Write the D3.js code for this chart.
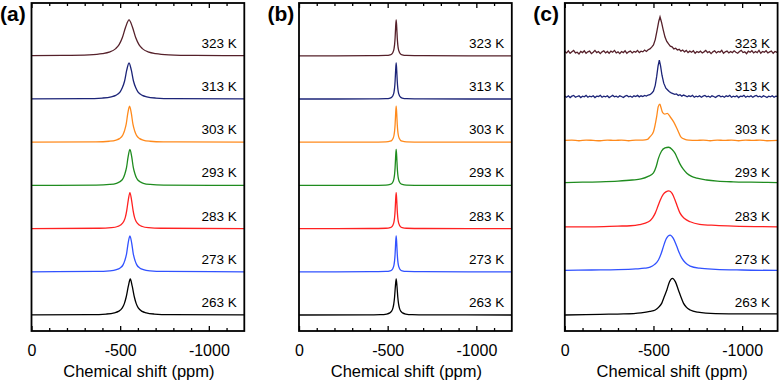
<!DOCTYPE html>
<html>
<head>
<meta charset="utf-8">
<script src="https://cdn.jsdelivr.net/npm/d3@7"></script>
<style>
  body { margin: 0; background: #fff; }
  svg { display: block; font-family: "Liberation Sans", Arial, sans-serif; }
</style>
</head>
<body>
<div id="chart"></div>
<script>
// temperatures, top row first
var temps = ["323 K", "313 K", "303 K", "293 K", "283 K", "273 K", "263 K"];
var lineColors = ["#55202a", "#1c2478", "#ff8a1c", "#1f8c1f", "#ff2121", "#3152ff", "#000000"];
var panelLabels = ["(a)", "(b)", "(c)"];
var majorTicks = [0, -500, -1000];
var tickLabels = ["0", "-500", "-1000"];
var minorTicks = [-100, -200, -300, -400, -600, -700, -800, -900, -1100];

// panel (a) spectra [ppm, intensity]
var a323 = [[0, .005], [-175, .01], [-325, .027], [-400, .06], [-438, .1], [-475, .2], [-494, .31], [-512, .5], [-531, .8], [-550, 1], [-569, .8], [-588, .5], [-606, .31], [-625, .2], [-662, .1], [-700, .06], [-775, .027], [-925, .01], [-1200, .004]];
var a313 = [[0, .002], [-300, .01], [-400, .027], [-450, .059], [-475, .1], [-500, .2], [-512, .31], [-525, .5], [-537, .8], [-550, 1], [-563, .8], [-575, .5], [-588, .31], [-600, .2], [-625, .1], [-650, .059], [-700, .027], [-800, .01], [-1200, .002]];
var a303 = [[0, .001], [-363, .01], [-439, .027], [-477, .059], [-496, .1], [-515, .2], [-524, .31], [-534, .5], [-543, .8], [-553, 1], [-563, .8], [-572, .5], [-582, .31], [-591, .2], [-610, .1], [-629, .059], [-667, .027], [-743, .01], [-1200, .001]];
var a293 = [[0, .001], [-365, .01], [-441, .027], [-479, .059], [-498, .1], [-517, .2], [-526, .31], [-536, .5], [-545, .8], [-555, 1], [-565, .8], [-574, .5], [-584, .31], [-593, .2], [-612, .1], [-631, .059], [-669, .027], [-745, .01], [-1200, .001]];
var a283 = [[0, .001], [-380, .01], [-450, .027], [-485, .059], [-502, .1], [-520, .2], [-529, .31], [-537, .5], [-546, .8], [-555, 1], [-564, .8], [-573, .5], [-581, .31], [-590, .2], [-608, .1], [-625, .059], [-660, .027], [-730, .01], [-1200, .001]];
var a273 = [[0, .001], [-365, .01], [-441, .027], [-479, .059], [-498, .1], [-517, .2], [-526, .31], [-536, .5], [-545, .8], [-555, 1], [-565, .8], [-574, .5], [-584, .31], [-593, .2], [-612, .1], [-631, .059], [-669, .027], [-745, .01], [-1200, .001]];
var a263 = [[0, .002], [-332, .01], [-422, .027], [-467, .059], [-490, .1], [-512, .2], [-523, .31], [-534, .5], [-546, .8], [-557, 1], [-568, .8], [-580, .5], [-591, .31], [-602, .2], [-624, .1], [-647, .059], [-692, .027], [-782, .01], [-1200, .002]];

// panel (b) spectra
var bNarrow = [[0, 0], [-400, .003], [-490, .01], [-514, .027], [-524, .055], [-530, .1], [-536, .2], [-539, .31], [-542, .5], [-545, .8], [-548, 1], [-551, .8], [-554, .5], [-557, .31], [-560, .2], [-566, .1], [-572, .055], [-582, .027], [-606, .01], [-700, .003], [-1200, 0]];
var b263 = [[0, 0], [-380, .004], [-458, .01], [-494, .027], [-512, .059], [-521, .1], [-530, .2], [-534.5, .31], [-539, .5], [-543.5, .8], [-548, 1], [-552.5, .8], [-557, .5], [-561.5, .31], [-566, .2], [-575, .1], [-584, .059], [-602, .027], [-638, .01], [-720, .004], [-1200, 0]];

// panel (c) spectra (323 K and 313 K are noisy)
var c323 = [[0, .12], [-10, .08], [-20, .14], [-30, .07], [-40, .11], [-50, .15], [-60, .08], [-70, .10], [-80, .05], [-90, .12], [-100, .09], [-110, .14], [-120, .07], [-130, .11], [-140, .13], [-150, .06], [-160, .10], [-170, .15], [-180, .09], [-190, .12], [-200, .06], [-210, .11], [-220, .14], [-230, .08], [-240, .12], [-250, .07], [-260, .13], [-270, .10], [-280, .15], [-290, .08], [-300, .11], [-310, .06], [-320, .12], [-330, .09], [-340, .14], [-350, .07], [-360, .11], [-370, .13], [-380, .08], [-390, .12], [-400, .10], [-410, .15], [-420, .09], [-430, .13], [-440, .11], [-450, .16], [-460, .12], [-470, .17], [-480, .19], [-490, .24], [-500, .30], [-510, .45], [-520, .70], [-530, .96], [-537, 1.08], [-545, .94], [-555, .72], [-565, .52], [-575, .40], [-585, .33], [-595, .27], [-605, .25], [-615, .19], [-625, .21], [-635, .16], [-645, .18], [-655, .13], [-665, .16], [-675, .11], [-685, .15], [-695, .09], [-705, .13], [-715, .10], [-725, .14], [-735, .07], [-745, .12], [-755, .09], [-765, .13], [-775, .08], [-785, .11], [-795, .15], [-805, .09], [-815, .12], [-825, .06], [-835, .11], [-845, .14], [-855, .08], [-865, .12], [-875, .10], [-885, .15], [-895, .07], [-905, .11], [-915, .13], [-925, .08], [-935, .12], [-945, .09], [-955, .14], [-965, .10], [-975, .07], [-985, .12], [-995, .15], [-1005, .09], [-1015, .11], [-1025, .06], [-1035, .13], [-1045, .10], [-1055, .14], [-1065, .08], [-1075, .12], [-1085, .09], [-1095, .15], [-1105, .07], [-1115, .12], [-1125, .10], [-1135, .14], [-1145, .08], [-1155, .11], [-1165, .13], [-1175, .07], [-1185, .12], [-1195, .10], [-1200, .11]];
var c313 = [[0, .08], [-10, .05], [-20, .09], [-30, .04], [-40, .08], [-50, .10], [-60, .05], [-70, .07], [-80, .09], [-90, .04], [-100, .08], [-110, .06], [-120, .10], [-130, .05], [-140, .08], [-150, .06], [-160, .09], [-170, .04], [-180, .08], [-190, .07], [-200, .10], [-210, .05], [-220, .08], [-230, .06], [-240, .09], [-250, .04], [-260, .07], [-270, .10], [-280, .06], [-290, .08], [-300, .05], [-310, .09], [-320, .07], [-330, .04], [-340, .08], [-350, .10], [-360, .06], [-370, .08], [-380, .05], [-390, .09], [-400, .07], [-410, .10], [-420, .06], [-430, .09], [-440, .07], [-450, .10], [-460, .08], [-470, .11], [-480, .12], [-490, .16], [-500, .22], [-510, .38], [-518, .62], [-526, .92], [-533, 1.08], [-540, .92], [-548, .66], [-558, .44], [-570, .30], [-580, .25], [-590, .20], [-600, .17], [-610, .15], [-620, .13], [-630, .14], [-640, .10], [-650, .12], [-660, .08], [-670, .11], [-680, .09], [-690, .06], [-700, .09], [-710, .07], [-720, .10], [-730, .05], [-740, .08], [-750, .06], [-760, .09], [-770, .05], [-780, .08], [-790, .10], [-800, .06], [-810, .08], [-820, .05], [-830, .09], [-840, .07], [-850, .04], [-860, .08], [-870, .10], [-880, .06], [-890, .08], [-900, .05], [-910, .09], [-920, .07], [-930, .10], [-940, .05], [-950, .08], [-960, .06], [-970, .09], [-980, .04], [-990, .08], [-1000, .07], [-1010, .10], [-1020, .05], [-1030, .08], [-1040, .06], [-1050, .09], [-1060, .05], [-1070, .08], [-1080, .10], [-1090, .06], [-1100, .08], [-1110, .05], [-1120, .09], [-1130, .07], [-1140, .04], [-1150, .08], [-1160, .06], [-1170, .09], [-1180, .05], [-1190, .08], [-1200, .07]];
var c303 = [[0, .05], [-40, .06], [-80, .04], [-120, .06], [-160, .05], [-200, .04], [-240, .06], [-280, .05], [-320, .06], [-360, .04], [-400, .06], [-440, .06], [-466, .08], [-480, .15], [-500, .29], [-518, .71], [-527, .99], [-536, 1.06], [-542, .97], [-552, .82], [-564, .78], [-578, .80], [-595, .70], [-613, .57], [-636, .34], [-654, .15], [-678, .08], [-700, .06], [-740, .05], [-780, .06], [-820, .04], [-860, .06], [-900, .05], [-940, .06], [-980, .04], [-1020, .06], [-1060, .05], [-1100, .06], [-1140, .04], [-1200, .05]];
var c293 = [[0, .08], [-100, .09], [-200, .10], [-300, .12], [-380, .15], [-430, .18], [-470, .25], [-500, .35], [-515, .52], [-528, .75], [-545, .95], [-565, 1.04], [-585, 1.06], [-605, 1.0], [-622, .89], [-636, .74], [-650, .59], [-668, .45], [-688, .34], [-715, .25], [-745, .20], [-800, .15], [-860, .12], [-950, .10], [-1050, .09], [-1200, .08]];
var c283 = [[0, .05], [-150, .05], [-300, .07], [-370, .08], [-420, .11], [-472, .19], [-495, .3], [-510, .43], [-525, .62], [-538, .79], [-555, .95], [-570, 1.02], [-587, 1.05], [-605, .98], [-622, .79], [-636, .6], [-650, .43], [-675, .28], [-707, .19], [-760, .12], [-850, .09], [-950, .07], [-1200, .05]];
var c273 = [[0, .04], [-150, .05], [-300, .06], [-400, .08], [-450, .10], [-481, .13], [-505, .2], [-528, .33], [-543, .5], [-556, .7], [-572, .92], [-594, 1.02], [-612, .93], [-632, .7], [-646, .52], [-660, .38], [-680, .25], [-707, .16], [-760, .1], [-850, .07], [-1000, .05], [-1200, .04]];
var c263 = [[0, 0], [-200, .02], [-331, .03], [-430, .06], [-480, .1], [-510, .14], [-530, .22], [-547, .33], [-560, .5], [-575, .69], [-590, .92], [-607, 1.02], [-624, .92], [-641, .69], [-655, .5], [-669, .33], [-685, .22], [-707, .14], [-750, .08], [-850, .04], [-1000, .03], [-1200, .03]];

var panelSpectra = [
    [a323, a313, a303, a293, a283, a273, a263],
    [bNarrow, bNarrow, bNarrow, bNarrow, bNarrow, bNarrow, b263],
    [c323, c313, c303, c293, c283, c273, c263]
];
var noisy = [c323, c313];

// layout
var width = 780, height = 383;
var panelLeft = [31.5, 299, 564.8], panelWidth = 212.8;
var frameTop = 3, frameBottom = 331;
var rowStep = 1.2;

var svg = d3.select("#chart").append("svg")
    .attr("width", width)
    .attr("height", height);

var y = d3.scaleLinear().domain([-0.444, 8.667]).range([frameBottom, frameTop]);

panelSpectra.forEach(function (spectra, p) {
    var x = d3.scaleLinear().domain([0, -1200])
        .range([panelLeft[p], panelLeft[p] + panelWidth]);

    var g = svg.append("g");

    // spectra, stacked from the bottom
    spectra.forEach(function (data, i) {
        var offset = (spectra.length - 1 - i) * rowStep;
        var line = d3.line()
            .x(function (d) { return x(d[0]); })
            .y(function (d) { return y(d[1] + offset); })
            .curve(noisy.indexOf(data) >= 0 ? d3.curveLinear : d3.curveMonotoneX);

        g.append("path")
            .datum(data)
            .attr("fill", "none")
            .attr("stroke", lineColors[i])
            .attr("stroke-width", 1.3)
            .attr("d", line);

        g.append("text")
            .attr("x", x(-1200) - 7.5)
            .attr("y", y(offset) - 8)
            .attr("text-anchor", "end")
            .style("font-size", "13.5px")
            .text(temps[i]);
    });

    // minor + major ticks, top and bottom (inward)
    g.append("g")
        .attr("transform", "translate(0," + frameBottom + ")")
        .call(d3.axisBottom(x).tickValues(minorTicks).tickSize(-3).tickFormat(""))
        .call(function (a) { a.select(".domain").remove(); });
    g.append("g")
        .attr("transform", "translate(0," + frameTop + ")")
        .call(d3.axisTop(x).tickValues(minorTicks).tickSize(-3).tickFormat(""))
        .call(function (a) { a.select(".domain").remove(); });
    g.append("g")
        .attr("transform", "translate(0," + frameTop + ")")
        .call(d3.axisTop(x).tickValues(majorTicks).tickSize(-5).tickFormat(""))
        .call(function (a) { a.select(".domain").remove(); });
    g.append("g")
        .attr("transform", "translate(0," + frameBottom + ")")
        .call(d3.axisBottom(x).tickValues(majorTicks).tickSize(-5).tickPadding(14)
            .tickFormat(function (d, k) { return tickLabels[k]; }))
        .call(function (a) {
            a.select(".domain").remove();
            a.selectAll("text").style("font-size", "16px").attr("fill", "#000");
        });
    g.selectAll(".tick line").attr("stroke", "#000").attr("stroke-width", 1.3);

    // frame
    g.append("rect")
        .attr("x", x(0))
        .attr("y", frameTop)
        .attr("width", x(-1200) - x(0))
        .attr("height", frameBottom - frameTop)
        .attr("fill", "none")
        .attr("stroke", "#000")
        .attr("stroke-width", 1.8);

    // axis title
    g.append("text")
        .attr("x", (x(0) + x(-1200)) / 2 + 1)
        .attr("y", 377)
        .attr("text-anchor", "middle")
        .style("font-size", "16.5px")
        .text("Chemical shift (ppm)");

    // panel letter
    g.append("text")
        .attr("x", panelLeft[p] - 31.5)
        .attr("y", 21)
        .style("font-size", "21px")
        .style("font-weight", "bold")
        .text(panelLabels[p]);
});
</script>
</body>
</html>
